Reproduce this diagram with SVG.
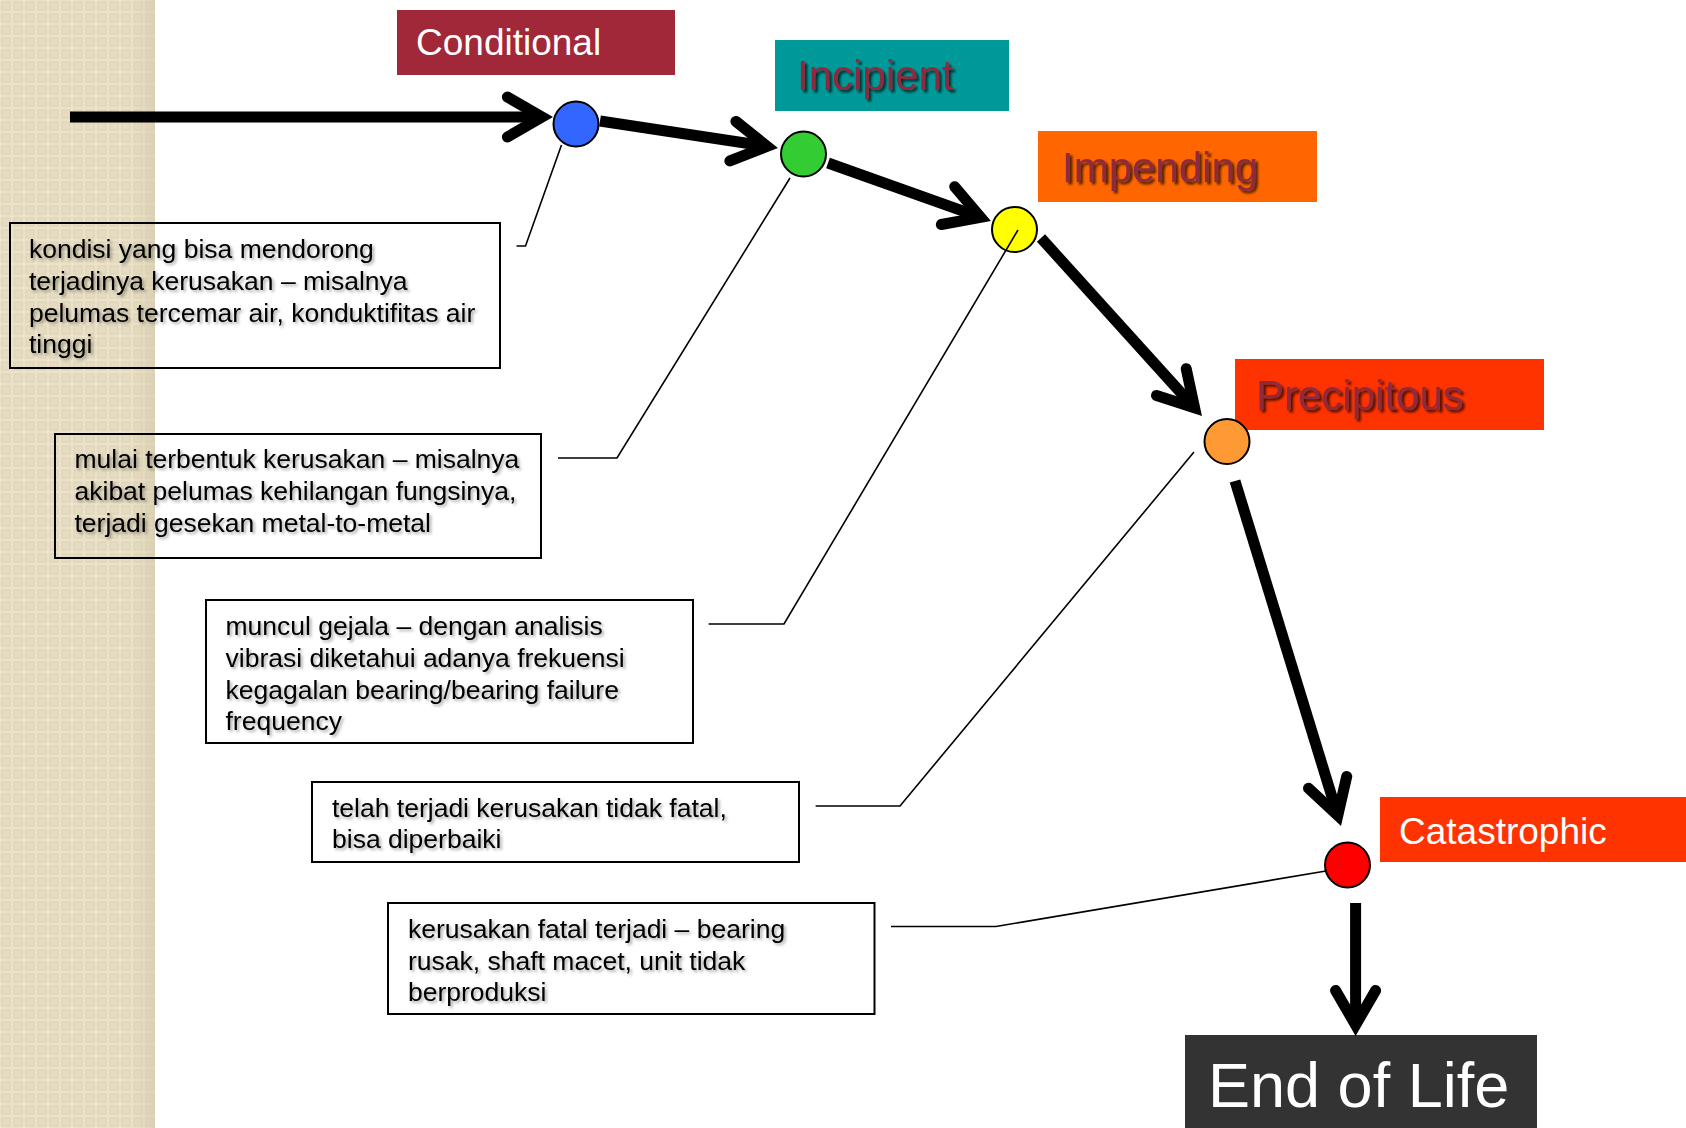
<svg xmlns="http://www.w3.org/2000/svg" width="1686" height="1128" viewBox="0 0 1686 1128">
<defs>
<pattern id="chk" x="0" y="0" width="12" height="12" patternUnits="userSpaceOnUse">
<rect width="12" height="12" fill="#EBE2C9"/>
<rect x="2" y="2" width="8" height="8" fill="#E6DCC1" stroke="#DDD3B8" stroke-width="1"/>
</pattern>
<linearGradient id="edge" x1="0" y1="0" x2="1" y2="0">
<stop offset="0" stop-color="#D3C8AA" stop-opacity="0"/>
<stop offset="1" stop-color="#D3C8AA" stop-opacity="0.55"/>
</linearGradient>
<filter id="tsh" x="-10%" y="-20%" width="130%" height="150%">
<feDropShadow dx="2.5" dy="2.5" stdDeviation="1" flood-color="#000" flood-opacity="0.7"/>
</filter>
<filter id="bsh" x="-5%" y="-20%" width="115%" height="150%">
<feDropShadow dx="2" dy="2" stdDeviation="1.5" flood-color="#000" flood-opacity="0.35"/>
</filter>
<style>
.stage{stroke:#000;stroke-width:2}
.lbl{font-family:"Liberation Sans",Arial,sans-serif;font-size:37px;fill:#fff}
.lbl2{font-family:"Liberation Sans",Arial,sans-serif;font-size:42px;fill:#8E2B3D;filter:url(#tsh)}
.box{fill:none;stroke:#000;stroke-width:2}
.desc{font-family:"Liberation Sans",Arial,sans-serif;font-size:26.5px;fill:#000;filter:url(#bsh)}
.shaft{fill:none;stroke:#000;stroke-width:11;stroke-linecap:butt}
.head{fill:none;stroke:#000;stroke-width:11;stroke-linecap:round;stroke-linejoin:miter;stroke-miterlimit:10}
.lead{fill:none;stroke:#000;stroke-width:1.6}
</style>
</defs>
<rect width="1686" height="1128" fill="#fff"/>
<rect x="0" y="0" width="155" height="1128" fill="url(#chk)"/>
<rect x="130" y="0" width="25" height="1128" fill="url(#edge)"/>

<g id="node-conditional">
<rect x="397" y="10" width="278" height="65" fill="#A12838"/>
<text class="lbl" x="416" y="55">Conditional</text>
<circle class="stage" cx="576" cy="124" r="22.5" fill="#3366FF"/>
</g>
<g id="node-incipient">
<rect x="775" y="40" width="234" height="71" fill="#009999"/>
<text class="lbl2" x="797" y="90">Incipient</text>
<circle class="stage" cx="803.5" cy="154" r="22.5" fill="#33CC33"/>
</g>
<g id="node-impending">
<rect x="1038" y="131" width="279" height="71" fill="#FF6600"/>
<text class="lbl2" x="1062" y="181.5">Impending</text>
<circle class="stage" cx="1014.5" cy="229.5" r="22.5" fill="#FFFF00"/>
</g>
<g id="node-precipitous">
<rect x="1235" y="359" width="309" height="71" fill="#FF3300"/>
<text class="lbl2" x="1256" y="410">Precipitous</text>
<circle class="stage" cx="1227" cy="441.5" r="22.5" fill="#FF9933"/>
</g>
<g id="node-catastrophic">
<rect x="1380" y="797" width="306" height="65" fill="#FF3300"/>
<text class="lbl" x="1399" y="844">Catastrophic</text>
<circle class="stage" cx="1347.5" cy="865" r="22.5" fill="#FF0000"/>
</g>
<g id="node-end">
<rect x="1185" y="1035" width="352" height="93" fill="#333333"/>
<text x="1208" y="1107" font-family="'Liberation Sans',Arial,sans-serif" font-size="63" fill="#fff">End of Life</text>
</g>

<g id="desc-conditional">
<rect class="box" x="10" y="223" width="490" height="145"/>
<text class="desc"><tspan x="29" y="258">kondisi yang bisa mendorong</tspan><tspan x="29" y="290">terjadinya kerusakan – misalnya</tspan><tspan x="29" y="321.7">pelumas tercemar air, konduktifitas air</tspan><tspan x="29" y="353">tinggi</tspan></text>
</g>
<g id="desc-incipient">
<rect class="box" x="55" y="434" width="486" height="124"/>
<text class="desc"><tspan x="74.5" y="468">mulai terbentuk kerusakan – misalnya</tspan><tspan x="74.5" y="500">akibat pelumas kehilangan fungsinya,</tspan><tspan x="74.5" y="532">terjadi gesekan metal-to-metal</tspan></text>
</g>
<g id="desc-impending">
<rect class="box" x="206" y="600" width="487" height="143"/>
<text class="desc"><tspan x="225.5" y="635">muncul gejala – dengan analisis</tspan><tspan x="225.5" y="667">vibrasi diketahui adanya frekuensi</tspan><tspan x="225.5" y="698.5">kegagalan bearing/bearing failure</tspan><tspan x="225.5" y="730">frequency</tspan></text>
</g>
<g id="desc-precipitous">
<rect class="box" x="312" y="782" width="487" height="80"/>
<text class="desc"><tspan x="332" y="817">telah terjadi kerusakan tidak fatal,</tspan><tspan x="332" y="848">bisa diperbaiki</tspan></text>
</g>
<g id="desc-catastrophic">
<rect class="box" x="388" y="903" width="486.5" height="111"/>
<text class="desc"><tspan x="408" y="938">kerusakan fatal terjadi – bearing</tspan><tspan x="408" y="970">rusak, shaft macet, unit tidak</tspan><tspan x="408" y="1001">berproduksi</tspan></text>
</g>

<g id="connectors">
<line class="shaft" x1="70" y1="117" x2="543" y2="117"/>
<polyline class="head" points="507.4,97 542,117 507.4,137"/>
<line class="shaft" x1="600" y1="121" x2="768" y2="146.5"/>
<polyline class="head" points="735.9,121.4 767.1,146.35 729.9,160.9"/>
<line class="shaft" x1="828" y1="163" x2="981.5" y2="217.6"/>
<polyline class="head" points="954.7,186.8 980.6,217.3 941.3,224.5"/>
<line class="shaft" x1="1041" y1="238" x2="1195.2" y2="408.5"/>
<polyline class="head" points="1186.2,368.7 1194.6,407.8 1156.5,395.5"/>
<line class="shaft" x1="1235" y1="481" x2="1338" y2="816.5"/>
<polyline class="head" points="1346.7,776.5 1337.8,815.5 1308.5,788.3"/>
<line class="shaft" x1="1355.6" y1="903" x2="1355.6" y2="1026"/>
<polyline class="head" points="1375.6,990.4 1355.6,1025 1335.6,990.4"/>
<polyline class="lead" points="561.5,145 525.5,246 516.5,246"/>
<polyline class="lead" points="790,178 617,458 558,458"/>
<polyline class="lead" points="1018,230 784,624 708.6,624"/>
<polyline class="lead" points="1194,452 900,806 815.6,806"/>
<polyline class="lead" points="1326,871 996,926.5 891,926.5"/>
</g>
</svg>
